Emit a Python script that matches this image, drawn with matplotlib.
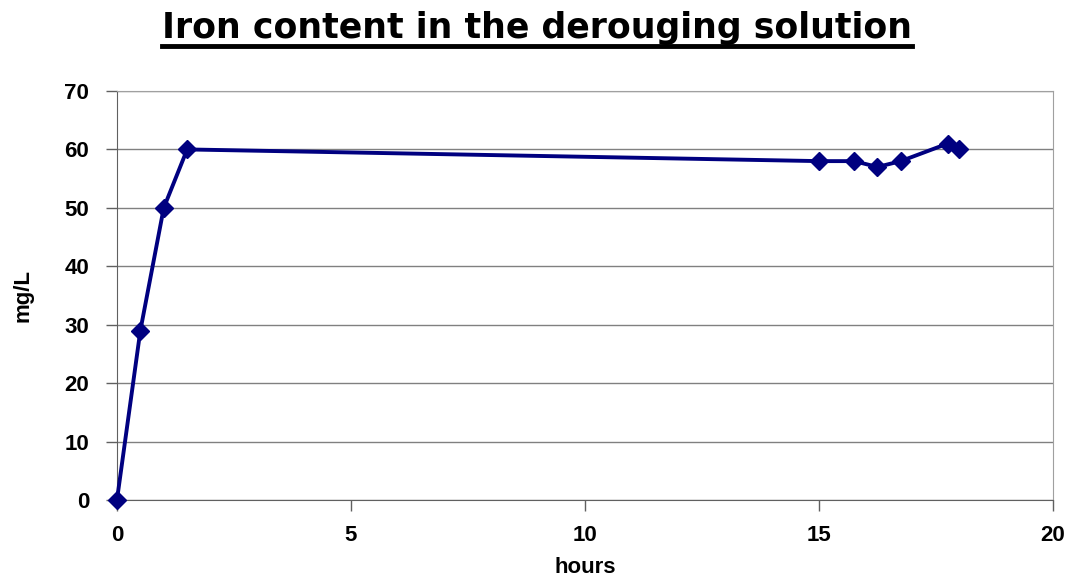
import matplotlib.pyplot as plt
from matplotlib.lines import Line2D

plt.rcParams['font.family'] = ['Liberation Sans', 'DejaVu Sans']
plt.rcParams['font.weight'] = 'bold'

# iron concentration over time
hours = [0, 0.5, 1, 1.5, 15, 15.75, 16.25, 16.75, 17.75, 18]
iron_mg_l = [0, 29, 50, 60, 58, 58, 57, 58, 61, 60]
x_ticks = [0, 5, 10, 15, 20]
y_ticks = [0, 10, 20, 30, 40, 50, 60, 70]

fig = plt.figure(figsize=(10.74, 5.8), dpi=100)
ax = fig.add_axes([0.1089, 0.1379, 0.8715, 0.7052])

ax.plot(hours, iron_mg_l, color='#000080', lw=2.8, marker='D', ms=9,
        mfc='#000080', mec='#000080', clip_on=False, zorder=3)

ax.set_xlim(0, 20)
ax.set_ylim(0, 70)
ax.set_xticks(x_ticks)
ax.set_yticks(y_ticks)
ax.yaxis.grid(True, color='#808080', lw=1)
ax.set_axisbelow(True)
for side in ['left', 'bottom']:
    ax.spines[side].set_color('#606060')
for side in ['top', 'right']:
    ax.spines[side].set_color('#a0a0a0')
ax.tick_params(direction='out', length=8, width=1, color='#606060',
               labelsize=16, pad=10)
ax.tick_params(axis='y', pad=12)

ax.set_xlabel('hours', fontsize=16, fontweight='bold', labelpad=8)
ax.set_ylabel('mg/L', fontsize=16, fontweight='bold', labelpad=22)

title = fig.text(0.5, 0.952, 'Iron content in the derouging solution',
                 ha='center', va='center', fontsize=25, fontweight='bold',
                 family=['DejaVu Sans'])

# underline the title
fig.canvas.draw()
bb = title.get_window_extent().transformed(fig.transFigure.inverted())
fig.add_artist(Line2D([bb.x0, bb.x1], [bb.y0 - 0.002, bb.y0 - 0.002],
                      transform=fig.transFigure, color='black', lw=3.5))

fig.savefig('out.png', dpi=100)
